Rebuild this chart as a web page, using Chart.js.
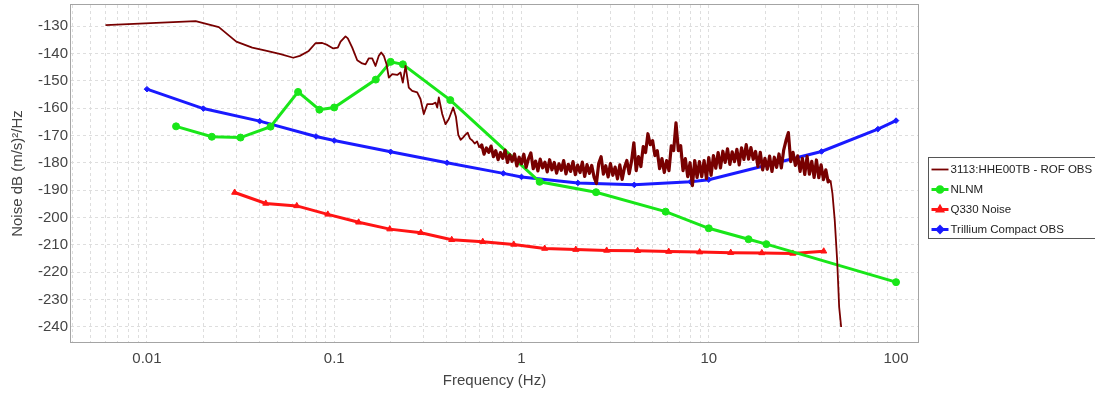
<!DOCTYPE html>
<html>
<head>
<meta charset="utf-8">
<title>Noise PSD</title>
<script src="https://cdn.jsdelivr.net/npm/chart.js"></script>
<style>
  html, body { margin: 0; padding: 0; background: #fff; }
  #wrap { width: 1095px; height: 393px; }
</style>
</head>
<body>
<div id="wrap"><canvas id="psdChart" width="1095" height="393"></canvas></div>
<script>
// ---- series ----

const seriesNames = [
  "3113:HHE00TB - ROF OBS",
  "NLNM",
  "Q330 Noise",
  "Trillium Compact OBS"
];

// measured PSD, [frequency Hz, dB]
const rofPsd = [
  [0.00601,-129.7],[0.0182,-128.2],[0.0242,-130.4],[0.0300,-135.7],[0.0365,-137.9],
  [0.0425,-138.9],[0.0517,-140.3],[0.0604,-141.6],[0.0655,-140.9],[0.0731,-139.1],
  [0.0794,-136.3],[0.0863,-136.2],[0.0918,-136.9],[0.0988,-138.2],[0.1045,-137.9],
  [0.1081,-135.7],[0.1149,-133.8],[0.1182,-134.5],[0.1248,-137.9],[0.1327,-142.5],
  [0.1410,-143.7],[0.1469,-144.0],[0.1530,-141.8],[0.1595,-141.8],[0.1661,-144.6],
  [0.1730,-140.9],[0.1782,-139.7],[0.1840,-140.9],[0.1903,-144.0],[0.1957,-148.9],
  [0.2040,-147.6],[0.2170,-147.9],[0.2259,-147.0],[0.2324,-150.7],[0.2403,-144.6],
  [0.2501,-152.5],[0.2608,-153.7],[0.2774,-154.3],[0.2888,-156.7],[0.3008,-162.2],
  [0.3139,-158.6],[0.3337,-158.6],[0.3474,-158.0],[0.3548,-159.8],[0.3618,-156.1],
  [0.3773,-162.2],[0.3929,-165.9],[0.4092,-164.0],[0.4317,-159.8],
  [0.4467,-163.2],[0.4597,-169.8],[0.4732,-171.6],[0.4870,-170.8],[0.5012,-169.8],
  [0.5158,-169.0],[0.5309,-171.2],[0.5464,-171.9],[0.5623,-173.0],[0.5788,-172.2],
  [0.5957,-174.5],[0.6131,-173.5],[0.6310,-176.9],[0.6494,-174.6],[0.6683,-176.2],
  [0.6879,-173.9],[0.7079,-177.8],[0.7286,-175.6],[0.7499,-178.9],[0.7718,-176.3],
  [0.7943,-178.4],[0.8175,-175.4],[0.8414,-179.9],[0.8660,-177.1],[0.8913,-179.5],
  [0.9173,-176.8],[0.9441,-181.2],[0.9716,-178.0],[1.000,-180.4],[1.029,-176.9],
  [1.059,-181.7],[1.090,-178.5],[1.122,-176.4],[1.155,-182.2],[1.189,-179.4],
  [1.223,-183.0],[1.259,-178.7],[1.296,-181.9],[1.334,-179.8],[1.372,-183.4],
  [1.413,-178.9],[1.454,-182.6],[1.496,-179.9],[1.540,-183.8],[1.585,-180.4],
  [1.631,-182.8],[1.679,-179.2],[1.728,-184.1],[1.778,-180.6],[1.830,-183.2],
  [1.884,-179.6],[1.939,-184.4],[1.995,-180.9],[2.054,-183.6],[2.113,-179.8],
  [2.175,-185.0],[2.239,-180.7],[2.304,-183.9],[2.371,-181.0],[2.441,-185.3],
  [2.512,-187.6],[2.585,-180.2],[2.661,-177.8],[2.738,-184.2],[2.818,-181.1],
  [2.901,-185.2],[2.985,-180.3],[3.073,-184.6],[3.162,-181.6],[3.255,-185.9],
  [3.350,-180.8],[3.447,-186.1],[3.548,-181.8],[3.652,-179.2],[3.758,-184.0],
  [3.868,-179.5],[3.981,-172.7],[4.097,-182.9],[4.217,-177.8],[4.340,-181.4],
  [4.467,-174.1],[4.597,-176.3],[4.732,-169.4],[4.870,-173.4],[5.012,-171.9],
  [5.158,-177.4],[5.309,-175.6],[5.464,-182.2],[5.623,-178.5],[5.788,-183.6],
  [5.957,-179.2],[6.131,-182.9],[6.310,-173.8],[6.494,-175.6],[6.683,-165.4],
  [6.879,-175.6],[7.079,-173.8],[7.286,-182.9],[7.499,-178.5],[7.718,-185.1],
  [7.943,-180.0],[8.175,-188.4],[8.414,-179.2],[8.660,-185.4],[8.913,-179.6],
  [9.173,-185.1],[9.441,-179.2],[9.716,-185.8],[10.00,-178.1],[10.29,-184.6],
  [10.59,-177.4],[10.90,-182.0],[11.22,-176.3],[11.55,-181.9],[11.89,-175.8],
  [12.23,-179.9],[12.59,-174.9],[12.96,-180.6],[13.34,-176.0],[13.72,-179.6],
  [14.13,-175.1],[14.54,-180.8],[14.96,-174.6],[15.40,-178.8],[15.85,-173.4],
  [16.31,-178.7],[16.79,-174.5],[17.28,-178.8],[17.78,-175.9],[18.30,-181.4],
  [18.84,-176.2],[19.39,-182.6],[19.95,-178.4],[20.54,-182.4],[21.13,-177.6],
  [21.75,-183.2],[22.39,-178.0],[23.04,-181.7],[23.71,-176.8],[24.41,-181.9],
  [25.12,-175.4],[25.85,-171.9],[26.61,-169.0],[27.38,-179.6],[28.18,-176.2],
  [29.01,-181.0],[29.85,-177.5],[30.73,-183.2],[31.62,-178.4],[32.55,-184.3],
  [33.50,-177.7],[34.47,-184.2],[35.48,-179.5],[36.52,-185.4],[37.58,-179.0],
  [38.68,-185.5],[39.81,-180.8],[40.97,-186.2],[42.17,-182.6],[43.40,-187.0],
  [44.67,-186.5],[45.76,-191.3],[47.07,-201.1],[48.48,-215.7],[49.69,-232.8],
  [50.93,-240.1]
];

const nlnmFreq = [0.0143, 0.0222, 0.0316, 0.0457, 0.0641, 0.0833, 0.1, 0.1667, 0.2, 0.2326,
                  0.4167, 1.25, 2.5, 5.882, 10, 16.3, 20.3, 100];
const nlnmDb   = [-166.7, -170.5, -170.8, -166.8, -154.1, -160.6, -159.8, -149.6, -143.1, -144.0,
                  -157.1, -187.0, -190.8, -197.9, -204.0, -208.0, -209.8, -223.7];

const q330Freq = [0.0294, 0.0431, 0.0631, 0.0924, 0.135, 0.198, 0.290, 0.424, 0.621, 0.909,
                  1.33, 1.95, 2.85, 4.17, 6.11, 8.94, 13.1, 19.2, 28.1, 41.1];
const q330Db   = [-190.9, -194.9, -195.8, -198.9, -201.8, -204.3, -205.6, -208.2, -208.9, -209.9,
                  -211.4, -211.8, -212.1, -212.2, -212.5, -212.7, -212.9, -213.0, -213.2, -212.4];

const trilliumFreq = [0.01, 0.02, 0.04, 0.08, 0.1, 0.2, 0.4, 0.8, 1, 2, 4, 8, 10, 40, 80, 100];
const trilliumDb   = [-153.1, -160.2, -164.8, -170.4, -171.9, -176.0, -180.0, -183.9, -185.2,
                      -187.4, -188.1, -187.0, -186.2, -175.9, -167.7, -164.6];

// ---- axes ----
const xTickValues = [0.01, 0.1, 1, 10, 100];
const xTickLabels = ["0.01", "0.1", "1", "10", "100"];
const yTicks = [-130, -140, -150, -160, -170, -180, -190, -200, -210, -220, -230, -240];

const xMin = 0.00393, xMax = 131;
const yMin = -245.6, yMax = -122.3;

const FONT = "'Liberation Sans', Arial, sans-serif";

const toPoints = (xs, ys) => xs.map((x, i) => ({ x: x, y: ys[i] }));

// 2..9 minor lines in every decade between the axis limits
function logGridValues(min, max) {
  const out = [];
  for (let e = Math.floor(Math.log10(min)); e <= Math.ceil(Math.log10(max)); e++) {
    for (let m = 1; m <= 9; m++) {
      const v = m * Math.pow(10, e);
      if (v >= min && v <= max) out.push(+v.toPrecision(6));
    }
  }
  return out;
}

/*
  frame round the plot + boxed key on the right
*/
const frameAndKey = {
  id: "frameAndKey",

  afterDatasetsDraw(chart) {
    const { ctx, chartArea: { left, top, right, bottom } } = chart;
    ctx.save();
    ctx.strokeStyle = "#a4a4a4";
    ctx.lineWidth = 1;
    ctx.strokeRect(left - 0.5, top - 0.5, right - left + 1, bottom - top + 1);
    ctx.restore();
  },

  afterDraw(chart) {
    const { ctx, chartArea } = chart;
    const bx = Math.round(chartArea.right) + 10.5;
    const by = Math.round(chart.height / 2 - 40) + 0.5;

    ctx.save();
    ctx.fillStyle = "#fff";
    ctx.fillRect(bx, by, 220, 81);
    ctx.strokeStyle = "#555";
    ctx.lineWidth = 1;
    ctx.strokeRect(bx, by, 220, 81);

    ctx.font = "11.5px " + FONT;
    ctx.textBaseline = "middle";
    ctx.textAlign = "left";

    chart.data.datasets.forEach((ds, i) => {
      const y = by + 12 + i * 20;
      ctx.strokeStyle = ds.borderColor;
      ctx.lineWidth = Math.min(ds.borderWidth, 3);
      ctx.beginPath();
      ctx.moveTo(bx + 3, y);
      ctx.lineTo(bx + 20, y);
      ctx.stroke();

      if (ds.pointRadius > 0) {
        ctx.fillStyle = ds.pointBackgroundColor;
        ctx.strokeStyle = ds.pointBorderColor;
        Chart.helpers.drawPoint(ctx, {
          pointStyle: ds.pointStyle,
          radius: 2.8,
          borderWidth: 1,
          rotation: 0
        }, bx + 11.5, y);
      }

      ctx.fillStyle = "#222";
      ctx.fillText(ds.label, bx + 22, y + 0.5);
    });
    ctx.restore();
  }
};

const gridStyle = { color: "#dedede", lineWidth: 1, drawTicks: false };

new Chart(document.getElementById("psdChart"), {
  type: "line",
  data: {
    datasets: [
      {
        label: seriesNames[0],
        data: rofPsd.map(p => ({ x: p[0], y: p[1] })),
        borderColor: "#780000",
        borderWidth: 1.8,
        pointRadius: 0,
        tension: 0,
        borderJoinStyle: "round",
        // the dense noisy stretch reads as a solid band
        segment: {
          borderWidth: c => (c.p0.parsed.x >= 0.59 && c.p1.parsed.x <= 45 ? 3.2 : 1.8)
        }
      },
      {
        label: seriesNames[1],
        data: toPoints(nlnmFreq, nlnmDb),
        borderColor: "#19e619",
        borderWidth: 3,
        pointStyle: "circle",
        pointRadius: 3.5,
        pointBackgroundColor: "#19e619",
        pointBorderColor: "#19e619",
        pointBorderWidth: 1,
        tension: 0
      },
      {
        label: seriesNames[2],
        data: toPoints(q330Freq, q330Db),
        borderColor: "#ff1414",
        borderWidth: 3,
        pointStyle: "triangle",
        pointRadius: 3.5,
        pointBackgroundColor: "#ff1414",
        pointBorderColor: "#ff1414",
        pointBorderWidth: 1,
        tension: 0
      },
      {
        label: seriesNames[3],
        data: toPoints(trilliumFreq, trilliumDb),
        borderColor: "#1a1aff",
        borderWidth: 3,
        pointStyle: "rectRot",
        pointRadius: 2.8,
        pointBackgroundColor: "#1a1aff",
        pointBorderColor: "#1a1aff",
        pointBorderWidth: 1,
        tension: 0
      }
    ]
  },
  options: {
    responsive: false,
    animation: false,
    devicePixelRatio: 1,
    layout: { padding: { left: 0, right: 177, top: 4, bottom: 0 } },
    plugins: {
      legend: { display: false },
      tooltip: { enabled: false }
    },
    scales: {
      x: {
        type: "logarithmic",
        min: xMin,
        max: xMax,
        afterBuildTicks: s => { s.ticks = logGridValues(xMin, xMax).map(v => ({ value: v })); },
        afterFit: s => { s.height = 51; s.paddingLeft = 0; s.paddingRight = 0; },
        grid: gridStyle,
        border: { display: false, dash: [3, 3] },
        ticks: {
          autoSkip: false,
          maxRotation: 0,
          padding: 8,
          color: "#444",
          font: { family: FONT, size: 15 },
          callback: v => {
            const i = xTickValues.findIndex(t => Math.abs(t - v) < t * 1e-6);
            return i >= 0 ? xTickLabels[i] : "";
          }
        },
        title: {
          display: true,
          text: "Frequency (Hz)",
          color: "#444",
          font: { family: FONT, size: 15 },
          padding: { top: 0, bottom: 3 }
        }
      },
      y: {
        min: yMin,
        max: yMax,
        afterBuildTicks: s => { s.ticks = yTicks.map(v => ({ value: v })); },
        afterFit: s => { s.width = 71; s.paddingTop = 0; s.paddingBottom = 0; },
        grid: gridStyle,
        border: { display: false, dash: [3, 3] },
        ticks: {
          padding: 3,
          color: "#444",
          font: { family: FONT, size: 15 }
        },
        title: {
          display: true,
          text: "Noise dB (m/s)²/Hz",
          color: "#444",
          font: { family: FONT, size: 15 },
          padding: { top: 9, bottom: 0 }
        }
      }
    }
  },
  plugins: [frameAndKey]
});
</script>
</body>
</html>
